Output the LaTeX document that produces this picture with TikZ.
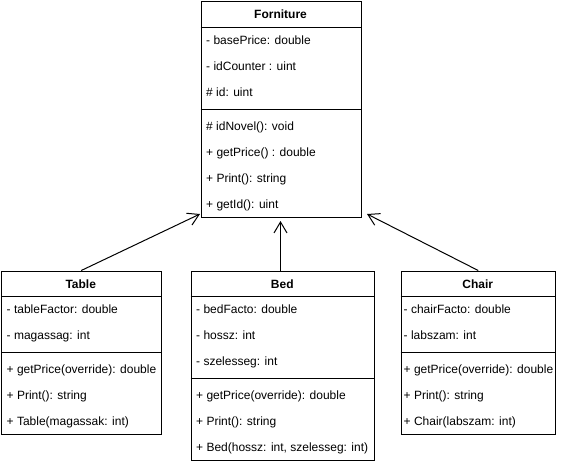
\documentclass[tikz,border=0pt]{standalone}
\usepackage{fontspec}
\setmainfont{Liberation Sans}
\usetikzlibrary{arrows.meta}

\tikzset{
 classbox/.style={draw,line width=1pt,inner sep=0pt,anchor=north west},
 classname/.style={inner sep=0pt,font=\bfseries\fontsize{12}{14}\selectfont},
 member/.style={anchor=west,inner sep=0pt,font=\fontsize{12}{14}\selectfont,text height=8.5pt,text depth=2.5pt},
 inherit/.style={line width=1pt,-{Straight Barb[length=11pt,width=13pt]}}
}

\begin{document}
\begin{tikzpicture}[x=1pt,y=-1pt]
\fill[white] (0,0) rectangle (561,464);
\useasboundingbox (0,0) rectangle (561,464);

% Forniture
\node[classbox,minimum width=160pt,minimum height=215.5pt] (forn) at (200.5,1) {};
\node[classname] (fornT) at (280.5,14.5) {Forniture};
\draw[line width=1pt] (200.5,27) -- (360.5,27);
\draw[line width=1pt] (200.5,109) -- (360.5,109);
\foreach \t [count=\i] in {- basePrice: double, - idCounter : uint, \# id: uint}
  \node[member] (fornA\i) at (206,{15+26*\i}) {\t};
\foreach \t [count=\i] in {\# idNovel(): void, + getPrice() : double, + Print(): string, + getId(): uint}
  \node[member] (fornM\i) at (206,{101+26*\i}) {\t};

% Table
\node[classbox,minimum width=159.5pt,minimum height=163.5pt] (table) at (1,270.5) {};
\node[classname] (tableT) at (80.75,284) {Table};
\draw[line width=1pt] (1,296.5) -- (160.5,296.5);
\draw[line width=1pt] (1,352.5) -- (160.5,352.5);
\foreach \t [count=\i] in {- tableFactor: double, - magassag: int}
  \node[member] (tableA\i) at (6.5,{284.5+26*\i}) {\t};
\foreach \t [count=\i] in {+ getPrice(override): double, + Print(): string, + Table(magassak: int)}
  \node[member] (tableM\i) at (6.5,{344.5+26*\i}) {\t};

% Bed
\node[classbox,minimum width=183.5pt,minimum height=189.5pt] (bed) at (190.5,270.5) {};
\node[classname] (bedT) at (282.25,284) {Bed};
\draw[line width=1pt] (190.5,296.5) -- (374,296.5);
\draw[line width=1pt] (190.5,378.5) -- (374,378.5);
\foreach \t [count=\i] in {- bedFacto: double, - hossz: int, - szelesseg: int}
  \node[member] (bedA\i) at (196,{284.5+26*\i}) {\t};
\foreach \t [count=\i] in {+ getPrice(override): double, + Print(): string, {+ Bed(hossz: int, szelesseg: int)}}
  \node[member] (bedM\i) at (196,{370.5+26*\i}) {\t};

% Chair
\node[classbox,minimum width=154.5pt,minimum height=163.5pt] (chair) at (400.5,270.5) {};
\node[classname] (chairT) at (477.75,284) {Chair};
\draw[line width=1pt] (400.5,296.5) -- (555,296.5);
\draw[line width=1pt] (400.5,352.5) -- (555,352.5);
\foreach \t [count=\i] in {- chairFacto: double, - labszam: int}
  \node[member] (chairA\i) at (403.5,{284.5+26*\i}) {\t};
\foreach \t [count=\i] in {+ getPrice(override): double, + Print(): string, + Chair(labszam: int)}
  \node[member] (chairM\i) at (403.5,{344.5+26*\i}) {\t};

% inheritance
\coordinate (tipL) at (200,214);
\coordinate (tipM) at (280.5,221);
\coordinate (tipR) at (367,214);
\draw[inherit] (table.north) -- (tipL);
\draw[inherit] (tipM |- bed.north) -- (tipM);
\draw[inherit] (chair.north) -- (tipR);
\end{tikzpicture}
\end{document}
